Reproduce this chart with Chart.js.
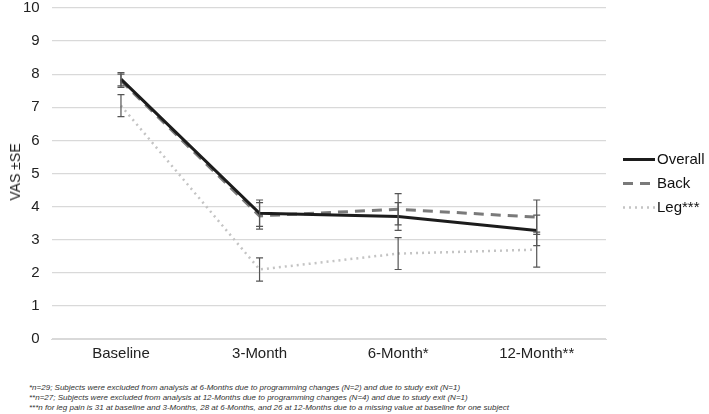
<!DOCTYPE html>
<html>
<head>
<meta charset="utf-8">
<script src="https://cdn.jsdelivr.net/npm/chart.js@4.4.1/dist/chart.umd.min.js"></script>
<style>
  body { margin: 0; background: #fff; font-family: "Liberation Sans", Arial, sans-serif; overflow: hidden; }
  #wrap { position: absolute; left: 0; top: -13px; width: 709px; height: 382px; }
  .ytitle { position: absolute; left: 15px; top: 172px; transform: translate(-50%, -50%) rotate(-90deg); font-size: 14px; color: #222; white-space: nowrap; }
  .notes { position: absolute; left: 29px; top: 383px; font-size: 8px; font-style: italic; color: #333; line-height: 10px; white-space: nowrap; }
</style>
</head>
<body>
<div id="wrap"><canvas id="vasChart"></canvas></div>
<div class="ytitle">VAS ±SE</div>
<div class="notes">
  <div>*n=29; Subjects were excluded from analysis at 6-Months due to programming changes (N=2) and due to study exit (N=1)</div>
  <div>**n=27; Subjects were excluded from analysis at 12-Months due to programming changes (N=4) and due to study exit (N=1)</div>
  <div>***n for leg pain is 31 at baseline and 3-Months, 28 at 6-Months, and 26 at 12-Months due to a missing value at baseline for one subject</div>
</div>
<script>
const timepoints = ["Baseline", "3-Month", "6-Month*", "12-Month**"];
const overall = [7.85, 3.8, 3.7, 3.28];
const back = [7.8, 3.72, 3.92, 3.68];
const leg = [7.05, 2.1, 2.58, 2.7];
const overallSE = [0.2, 0.4, 0.42, 0.46];
const backSE = [0.2, 0.4, 0.47, 0.52];
const legSE = [0.33, 0.35, 0.48, 0.53];
const yTicks = [0, 1, 2, 3, 4, 5, 6, 7, 8, 9, 10];

const errors = [overallSE, backSE, legSE];

// draws the ±SE whiskers with the y scale
const errorBars = {
  id: "errorBars",
  afterDatasetsDraw(chart) {
    const ctx = chart.ctx;
    const y = chart.scales.y;
    ctx.save();
    ctx.strokeStyle = "#555";
    ctx.lineWidth = 1.2;
    chart.data.datasets.forEach((ds, di) => {
      const meta = chart.getDatasetMeta(di);
      meta.data.forEach((pt, i) => {
        const e = errors[di][i];
        const top = y.getPixelForValue(ds.data[i] + e);
        const bot = y.getPixelForValue(ds.data[i] - e);
        ctx.beginPath();
        ctx.moveTo(pt.x, top); ctx.lineTo(pt.x, bot);
        ctx.moveTo(pt.x - 3.5, top); ctx.lineTo(pt.x + 3.5, top);
        ctx.moveTo(pt.x - 3.5, bot); ctx.lineTo(pt.x + 3.5, bot);
        ctx.stroke();
      });
    });
    ctx.restore();
  }
};

// legend to the right of the plot, line samples keep the dash pattern
const sideLegend = {
  id: "sideLegend",
  afterDraw(chart) {
    const ctx = chart.ctx;
    const area = chart.chartArea;
    const x0 = area.right + 17;
    const mid = (area.top + area.bottom) / 2 + 10;
    ctx.save();
    ctx.font = "15px 'Liberation Sans'";
    ctx.textBaseline = "middle";
    chart.data.datasets.forEach((ds, i) => {
      const y = mid + (i - 1) * 24;
      ctx.strokeStyle = ds.borderColor;
      ctx.lineWidth = ds.borderWidth;
      ctx.setLineDash(ds.borderDash || []);
      ctx.beginPath();
      ctx.moveTo(x0, y); ctx.lineTo(x0 + 32, y);
      ctx.stroke();
      ctx.setLineDash([]);
      ctx.fillStyle = "#111";
      ctx.fillText(ds.label, x0 + 34, y);
    });
    ctx.restore();
  }
};

const ctx = document.getElementById("vasChart").getContext("2d");
const chart = new Chart(ctx, {
  type: "line",
  data: {
    labels: timepoints,
    datasets: [{
      label: "Overall",
      data: overall,
      borderColor: "#1c1c1c",
      borderWidth: 3,
      pointRadius: 0
    }, {
      label: "Back",
      data: back,
      borderColor: "#7a7a7a",
      borderWidth: 3,
      borderDash: [10, 7],
      pointRadius: 0
    }, {
      label: "Leg***",
      data: leg,
      borderColor: "#c4c4c4",
      borderWidth: 2.5,
      borderDash: [2, 4],
      pointRadius: 0
    }]
  },
  options: {
    responsive: true,
    maintainAspectRatio: false,
    animation: false,
    layout: {padding: {left: 11, right: 103, top: 0, bottom: 0}},
    scales: {
      x: {
        offset: true,
        grid: {display: false, drawTicks: false},
        border: {color: "#d9d9d9"},
        ticks: {color: "#222", font: {family: "Liberation Sans", size: 15}, padding: 6}
      },
      y: {
        min: 0,
        max: 10,
        afterBuildTicks: (axis) => { axis.ticks = yTicks.map(v => ({value: v})); },
        grid: {color: "#d9d9d9", lineWidth: 1.2, drawTicks: false},
        border: {display: false},
        ticks: {color: "#222", font: {family: "Liberation Sans", size: 15}, padding: 12}
      }
    },
    plugins: {
      legend: {display: false},
      tooltip: {enabled: false}
    }
  },
  plugins: [errorBars, sideLegend]
});
</script>
</body>
</html>
